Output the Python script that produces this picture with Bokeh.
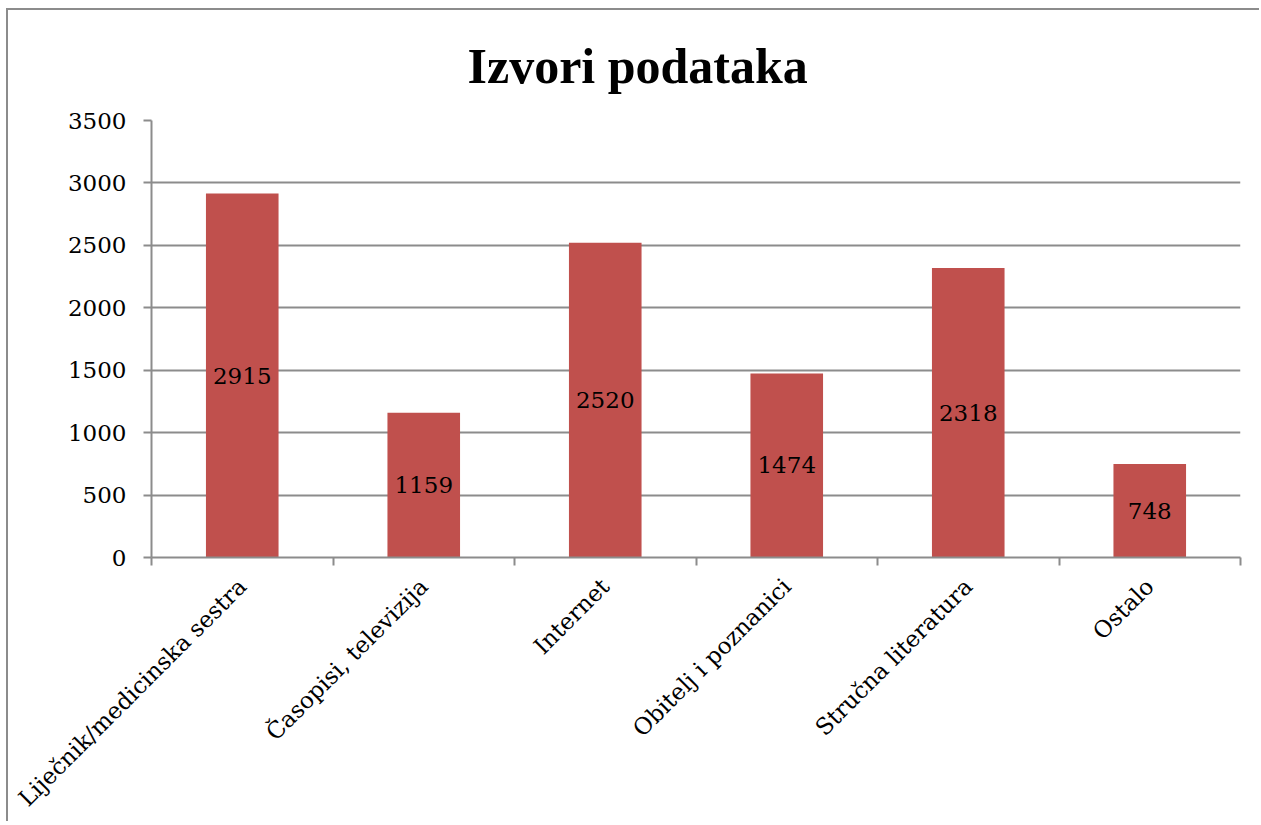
import math
from bokeh.plotting import figure
from bokeh.models import FixedTicker, ColumnDataSource, Range1d
from bokeh.core.properties import value
from bokeh.embed import file_html
from bokeh.resources import INLINE

# ---- data ----
categories = ["Liječnik/medicinska sestra", "Časopisi, televizija", "Internet",
              "Obitelj i poznanici", "Stručna literatura", "Ostalo"]
counts = [2915, 1159, 2520, 1474, 2318, 748]
y_ticks = [0, 500, 1000, 1500, 2000, 2500, 3000, 3500]
title_text = "Izvori podataka"

BAR = "#C0504D"
GRID = "#8c8c8c"
SERIF = "DejaVu Serif"

n = len(categories)
centers = [i + 0.5 for i in range(n)]
bounds = list(range(n + 1))

src = ColumnDataSource(dict(
    x=centers, top=counts, mid=[c / 2 for c in counts],
    lab=[str(c) for c in counts],
))

p = figure(width=1253, height=813, output_backend="svg", toolbar_location=None,
           x_range=Range1d(0, n), y_range=Range1d(y_ticks[0], y_ticks[-1]),
           min_border_left=143, min_border_right=21, min_border_top=110,
           min_border_bottom=266)
p.styles = {"border-left": "2px solid #8c8c8c", "border-top": "2px solid #8c8c8c",
            "margin-left": "6px", "margin-top": "8px"}
p.outline_line_color = None
p.background_fill_color = "white"
p.border_fill_color = "white"

p.title.text = title_text
p.title.text_font = "Liberation Serif"
p.title.text_font_style = "bold"
p.title.text_font_size = "50px"
p.title.text_color = "black"
p.title.align = "left"
p.title.offset = 316
p.title.vertical_align = "top"
p.title.standoff = 50

p.vbar(x="x", top="top", width=0.4, bottom=0, source=src, fill_color=BAR,
       line_color=None)
p.text(x="x", y="mid", text="lab", source=src, text_align="center",
       text_baseline="middle", text_font=value(SERIF), text_font_size="23px",
       text_color="black")

# y axis
ya = p.yaxis[0]
ya.ticker = FixedTicker(ticks=y_ticks)
ya.axis_line_color = GRID
ya.axis_line_width = 2
ya.major_tick_line_color = GRID
ya.major_tick_line_width = 2
ya.major_tick_out = 8
ya.major_tick_in = 0
ya.minor_tick_line_color = None
ya.major_label_text_font = SERIF
ya.major_label_text_font_size = "23px"
ya.major_label_text_color = "black"
ya.major_label_standoff = 17

# x axis
xa = p.xaxis[0]
xa.ticker = FixedTicker(ticks=centers, minor_ticks=bounds)
xa.major_label_overrides = {c: lab for c, lab in zip(centers, categories)}
xa.major_tick_line_color = None
xa.minor_tick_line_color = GRID
xa.minor_tick_line_width = 2
xa.minor_tick_out = 8
xa.minor_tick_in = 0
xa.axis_line_color = GRID
xa.axis_line_width = 2
xa.major_label_orientation = math.pi / 4
xa.major_label_text_font = SERIF
xa.major_label_text_font_size = "23px"
xa.major_label_text_color = "black"
xa.major_label_standoff = 17

p.xgrid.grid_line_color = None
p.ygrid.ticker = FixedTicker(ticks=y_ticks)
p.ygrid.grid_line_color = GRID
p.ygrid.grid_line_width = 2

open("out.html", "w").write(file_html(p, INLINE))
